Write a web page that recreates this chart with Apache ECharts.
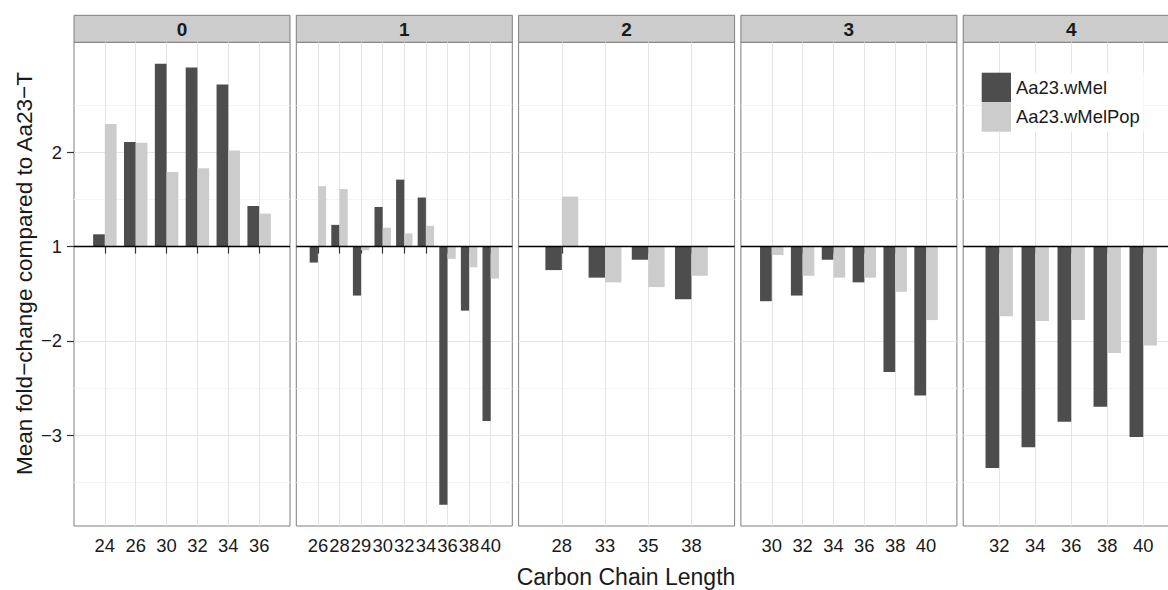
<!DOCTYPE html>
<html><head><meta charset="utf-8">
<script src="https://cdn.jsdelivr.net/npm/echarts@6/dist/echarts.min.js"></script>
<style>html,body{margin:0;padding:0;background:#fff}#c{width:1168px;height:590px}</style>
</head><body><div id="c"></div>
<script>
// ---- data (mean fold-change vs Aa23-T) ----
const seriesNames = ['Aa23.wMel', 'Aa23.wMelPop'];
const facetLabels = ['0', '1', '2', '3', '4'];
const chain0 = ['24', '26', '30', '32', '34', '36'];
const wMel0 = [1.13, 2.11, 2.94, 2.90, 2.72, 1.43];
const wMelPop0 = [2.30, 2.10, 1.79, 1.83, 2.02, 1.35];
const chain1 = ['26', '28', '29', '30', '32', '34', '36', '38', '40'];
const wMel1 = [-1.17, 1.23, -1.52, 1.42, 1.71, 1.52, -3.74, -1.68, -2.85];
const wMelPop1 = [1.64, 1.61, -1.04, 1.20, 1.14, 1.22, -1.13, -1.22, -1.34];
const chain2 = ['28', '33', '35', '38'];
const wMel2 = [-1.25, -1.33, -1.14, -1.56];
const wMelPop2 = [1.53, -1.38, -1.43, -1.31];
const chain3 = ['30', '32', '34', '36', '38', '40'];
const wMel3 = [-1.58, -1.52, -1.14, -1.38, -2.33, -2.58];
const wMelPop3 = [-1.09, -1.31, -1.33, -1.33, -1.48, -1.78];
const chain4 = ['32', '34', '36', '38', '40'];
const wMel4 = [-3.35, -3.13, -2.86, -2.70, -3.02];
const wMelPop4 = [-1.74, -1.79, -1.78, -2.13, -2.05];
const yMajorTicks = [-3, -2, 1, 2];
const yMinorTicks = [-3.5, -2.5, 1.5, 2.5];
const baselineValue = 1;

// fold-change axis: values between -1 and 1 collapse onto the baseline
function toAxis(v) { return v >= 1 ? v - 1 : v + 1; }
function fromAxis(t) { return t >= 0 ? t + 1 : t - 1; }

const chains = [chain0, chain1, chain2, chain3, chain4];
const wMel = [wMel0, wMel1, wMel2, wMel3, wMel4];
const wMelPop = [wMelPop0, wMelPop1, wMelPop2, wMelPop3, wMelPop4];

// ---- layout / style ----
const FONT = '"Liberation Sans", Arial, Helvetica, sans-serif';
const PANEL_LEFT = 74, PANEL_STEP = 222.3, PANEL_W = 216;
const PANEL_TOP = 42.3, PANEL_H = 483.7, STRIP_TOP = 15.3;
const Y_MIN = -2.965, Y_MAX = 2.167;
const DARK = '#4d4d4d', LIGHT = '#cccccc';
const TXT = '#1a1a1a';

const grids = [], xAxes = [], yAxes = [], series = [], graphics = [];
const majorAxis = yMajorTicks.map(toAxis);
const minorAxis = yMinorTicks.map(toAxis);

for (let i = 0; i < 5; i++) {
  const left = PANEL_LEFT + i * PANEL_STEP;
  const n = chains[i].length;
  grids.push({
    left: left, top: PANEL_TOP, width: PANEL_W, height: PANEL_H,
    show: true, backgroundColor: '#fff', borderColor: '#7f7f7f', borderWidth: 1,
    containLabel: false, outerBoundsMode: 'none'
  });
  xAxes.push({
    type: 'category', gridIndex: i, boundaryGap: false,
    data: [''].concat(chains[i], ['']),
    axisLine: { show: false },
    axisTick: { show: true, length: 7, interval: (idx) => idx > 0 && idx <= n,
      lineStyle: { color: '#333', width: 1.2 } },
    axisLabel: { interval: 0, margin: 10, fontSize: 18.4, color: TXT, fontFamily: FONT, hideOverlap: false },
    splitLine: { show: true, interval: (idx) => idx > 0 && idx <= n,
      lineStyle: { color: '#e5e5e5', width: 1 } }
  });
  yAxes.push({
    type: 'value', gridIndex: i, min: Y_MIN, max: Y_MAX, position: 'left',
    axisLine: { show: false },
    axisTick: { show: i === 0, length: 7, customValues: majorAxis,
      lineStyle: { color: '#333', width: 1.2 } },
    axisLabel: { show: i === 0, customValues: majorAxis, margin: 12, fontSize: 18.4,
      color: TXT, fontFamily: FONT,
      formatter: (val) => { const v = Math.round(fromAxis(val)); return v < 0 ? '\u2212' + Math.abs(v) : String(v); } },
    splitLine: { show: true, lineStyle: { color: '#e5e5e5', width: 1 } }
  });
  yAxes.push({
    type: 'value', gridIndex: i, min: Y_MIN, max: Y_MAX, position: 'right',
    axisLine: { show: false },
    axisTick: { show: false, customValues: minorAxis },
    axisLabel: { show: false, customValues: minorAxis },
    splitLine: { show: true, lineStyle: { color: '#f4f4f4', width: 1 } }
  });
  series.push({
    type: 'bar', name: seriesNames[0], xAxisIndex: i, yAxisIndex: 2 * i,
    barWidth: '38%', barGap: '0%', itemStyle: { color: DARK },
    data: ['-'].concat(wMel[i].map(toAxis), ['-'])
  });
  series.push({
    type: 'bar', name: seriesNames[1], xAxisIndex: i, yAxisIndex: 2 * i,
    barWidth: '38%', barGap: '0%', itemStyle: { color: LIGHT },
    data: ['-'].concat(wMelPop[i].map(toAxis), ['-']),
    markLine: {
      silent: true, symbol: ['none', 'none'], label: { show: false },
      lineStyle: { color: '#000', width: 1.4, type: 'solid' },
      data: [{ yAxis: toAxis(baselineValue) }]
    }
  });
  graphics.push({
    type: 'rect', silent: true,
    shape: { x: left, y: STRIP_TOP, width: PANEL_W, height: PANEL_TOP - STRIP_TOP },
    style: { fill: '#cccccc', stroke: '#7f7f7f', lineWidth: 1 }
  });
  graphics.push({
    type: 'text', silent: true, x: left + PANEL_W / 2, y: (STRIP_TOP + PANEL_TOP) / 2 + 0.5,
    style: { text: facetLabels[i], fontSize: 19, fontWeight: 'bold', fontFamily: FONT,
      fill: TXT, align: 'center', verticalAlign: 'middle' }
  });
}

graphics.push({
  type: 'text', silent: true, x: 626, y: 577,
  style: { text: 'Carbon Chain Length', fontSize: 23, fontFamily: FONT, fill: TXT,
    align: 'center', verticalAlign: 'middle' }
});
graphics.push({
  type: 'text', silent: true, x: 24, y: 273.5, rotation: Math.PI / 2,
  style: { text: 'Mean fold\u2212change compared to Aa23\u2212T', fontSize: 22.6, fontFamily: FONT,
    fill: TXT, align: 'center', verticalAlign: 'middle' }
});

const chart = echarts.init(document.getElementById('c'), null, { renderer: 'svg' });
chart.setOption({
  animation: false,
  backgroundColor: '#fff',
  textStyle: { fontFamily: FONT },
  grid: grids, xAxis: xAxes, yAxis: yAxes, series: series,
  legend: {
    data: seriesNames, orient: 'vertical', left: 981.7, top: 72.7,
    itemWidth: 29.3, itemHeight: 29.5, itemGap: 0, icon: 'rect',
    backgroundColor: '#fff', padding: [0, 4, 0, 0], selectedMode: false,
    textStyle: { fontSize: 18.4, color: TXT, fontFamily: FONT }
  },
  graphic: graphics
});
</script>
</body></html>
